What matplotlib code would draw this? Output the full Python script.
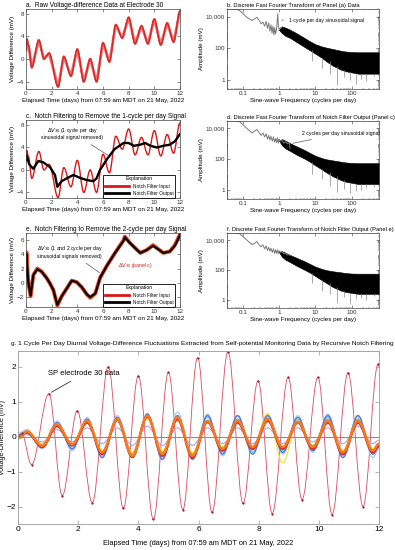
import numpy as np
import matplotlib
matplotlib.use('Agg')
import matplotlib.pyplot as plt
from matplotlib.path import Path
from matplotlib.patches import PathPatch
from matplotlib.lines import Line2D

plt.rcParams['font.family'] = ['Liberation Sans', 'DejaVu Sans']

# ---- panel a / c : raw data (extremes) ----
a_days = [0.0, 0.05, 0.2, 0.45, 1.0, 1.4, 1.8, 2.5, 2.95, 3.5, 4.0, 4.5, 5.0, 5.5,
          6.0, 6.5, 7.0, 7.5, 8.0, 8.5, 9.0, 9.5, 10.0, 10.5, 11.0, 11.5, 12.0]
a_mv = [1.5, 3.5, 2.3, -1.5, 3.3, 0.0, 1.0, -4.9, 0.4, -3.0, 1.7, -4.0, 0.0, -4.0,
        2.8, -0.5, 6.0, 3.7, 7.3, 2.7, 5.8, 2.7, 7.0, 2.5, 6.3, 3.0, 8.4]

# ---- panel c : notch filter output ----
c_days = [0.0, 0.05, 0.25, 0.57, 0.96, 1.35, 1.87, 2.26, 2.44, 2.78, 3.17, 3.69, 4.2,
          4.73, 5.25, 5.5, 5.77, 6.3, 6.9, 7.6, 8.0, 8.4, 8.9, 9.3, 9.7, 10.2, 10.7,
          11.2, 11.6, 12.0]
c_out = [1.8, 2.6, 1.0, 0.2, 1.6, 1.35, 0.5, -0.9, -3.0, -2.0, -1.5, -0.9, -1.4,
         -1.8, -2.0, -1.5, 0.0, 1.9, 3.7, 4.8, 4.8, 4.3, 4.5, 4.8, 4.3, 4.0, 4.3,
         4.5, 5.1, 6.4]

# ---- panel e ----
e_days = [0.0, 0.03, 0.18, 0.36, 0.57, 0.88, 1.2, 1.6, 1.87, 2.13, 2.44, 2.78, 3.17,
          3.56, 3.95, 4.34, 4.73, 5.0, 5.4, 5.77, 6.3, 6.9, 7.6, 7.7, 8.1, 8.9, 9.4,
          9.9, 10.4, 10.7, 11.2, 11.6, 12.0]
e_in = [1.0, 4.3, 0.0, -1.9, 1.1, 2.0, 1.6, 0.7, -0.1, -1.0, -3.2, -1.9, -0.8,
        0.3, 0.1, -0.6, -1.6, -2.1, -1.5, 0.7, 2.4, 4.1, 6.0, 6.5, 5.6, 4.2, 4.6,
        5.3, 4.6, 4.2, 4.4, 5.3, 6.8]
e_out = [1.0, 4.1, 0.1, -1.8, 1.1, 1.9, 1.6, 0.7, -0.1, -1.0, -3.1, -1.9, -0.8,
         0.3, 0.1, -0.6, -1.6, -2.0, -1.5, 0.7, 2.4, 4.1, 5.9, 6.4, 5.6, 4.2, 4.6,
         5.2, 4.6, 4.2, 4.4, 5.2, 6.7]

# ---- FFT spectra (frequency in cycles/day, amplitude in mV) ----
b_low_f = [0.037, 0.06, 0.08, 0.1, 0.13, 0.18, 0.21, 0.245, 0.28, 0.32, 0.36, 0.4, 0.44,
           0.48, 0.52, 0.56, 0.6, 0.64, 0.68, 0.72, 0.76, 0.8, 0.85, 0.92, 0.96, 1.0, 1.1]
b_low_amp = [30000, 30000, 25000, 16000, 9000, 5600, 7000, 9000, 6000, 3500, 4500, 2500,
             5000, 1800, 4000, 1200, 3000, 900, 2500, 700, 2000, 800, 1500, 15000, 2500, 1500, 2000]
d_low_f = [0.037, 0.06, 0.08, 0.1, 0.13, 0.18, 0.21, 0.245, 0.28, 0.32, 0.36, 0.4, 0.44,
           0.48, 0.52, 0.56, 0.6, 0.65, 0.7, 0.75, 0.8, 0.85, 0.9, 0.95, 1.0, 1.1, 1.2,
           1.35, 1.5, 1.7, 1.9, 2.0]
d_low_amp = [30000, 30000, 28000, 18000, 10000, 5000, 6500, 8500, 5500, 3500, 5000, 2800,
             4500, 2000, 3500, 1800, 3000, 1500, 2800, 1300, 2200, 1200, 2500, 1100, 2000,
             1500, 1700, 1100, 1400, 1000, 1200, 500]
f_low_amp = [30000, 30000, 28000, 18000, 10000, 5000, 6000, 8000, 5000, 3500, 4800, 2600,
             4000, 2000, 3300, 1800, 2800, 1500, 2600, 1300, 2200, 1300, 2200, 1200, 1900,
             1500, 1600, 1200, 1300, 1000, 1100, 900]

band_f = [1.0, 1.2, 1.5, 2, 3, 5, 7, 10, 15, 20, 30, 50, 70, 100, 150, 200, 300, 560]
b_band_hi = [1500, 2400, 2000, 1500, 900, 450, 280, 180, 130, 110, 90, 70, 62, 58, 56, 56, 56, 56]
b_band_lo = [1400, 900, 600, 450, 250, 120, 75, 45, 25, 15, 8, 4.5, 3.5, 3, 2.5, 2.5, 2.5, 2.5]
d_band_hi = [1700, 2000, 1600, 1100, 700, 400, 260, 170, 120, 100, 85, 70, 62, 58, 56, 56, 56, 56]
d_band_lo = [1600, 800, 500, 350, 200, 110, 70, 40, 22, 14, 8, 4.5, 3.5, 3, 2.5, 2.5, 2.5, 2.5]
f_band_hi = [1600, 1800, 1400, 1000, 650, 380, 250, 165, 115, 95, 80, 68, 60, 56, 55, 55, 55, 55]
f_band_lo = [1500, 750, 480, 330, 190, 100, 65, 38, 20, 13, 7, 4, 3.2, 2.8, 2.4, 2.4, 2.4, 2.4]

spike_f = [8, 15, 25, 40, 60, 90, 130, 180, 250, 400]
b_spike_amp = [15, 6, 2.5, 0.5, 1.5, 1.0, 0.6, 1.2, 0.9, 1.8]
d_spike_amp = [12, 5, 2.0, 0.8, 1.2, 0.7, 0.9, 1.0, 1.3, 1.6]
f_spike_amp = [14, 4, 2.2, 0.6, 1.4, 0.5, 1.1, 1.2, 1.0, 1.7]

# ---- panel g : extracted diurnal signals ----
sp_days = [0.0, 0.12, 0.45, 1.03, 1.47, 1.97, 2.47, 3.0, 3.5, 4.0, 4.5, 5.0, 5.48, 5.97,
           6.45, 6.98, 7.48, 7.98, 8.45, 8.98, 9.44, 9.97, 10.44, 10.97, 11.47, 11.97, 12.0]
sp_mv = [0.0, 0.1, -0.8, 1.23, -1.69, 0.74, -1.89, 2.0, -2.05, 1.74, -2.37, 1.84, -2.09,
         2.26, -2.17, 2.43, -1.91, 1.6, -2.2, 1.7, -1.8, 1.7, -2.23, 1.83, -2.0, 2.08, 2.0]

g_days = [0.0, 0.3, 0.8, 1.3, 1.8, 2.3, 2.8, 3.3, 3.8, 4.3, 4.8, 5.3, 5.8, 6.3, 6.8, 7.3,
          7.8, 8.3, 8.8, 9.3, 9.8, 10.3, 10.8, 11.3, 11.8, 12.0]
g_orange = [-0.05, 0.15, -0.26, 0.35, -0.22, 0.45, -0.45, 0.5, -0.55, 0.6, -0.5, 0.55, -0.55,
            0.45, -0.35, 0.45, -0.3, 0.5, -0.3, 0.42, -0.3, 0.45, -0.45, 0.45, -0.4, -0.2]
g_red = [0.0, 0.12, -0.3, 0.3, -0.25, 0.4, -0.5, 0.48, -0.58, 0.58, -0.55, 0.5, -0.6,
         0.42, -0.4, 0.4, -0.35, 0.45, -0.35, 0.4, -0.35, 0.4, -0.5, 0.4, -0.45, -0.25]
g_blue = [0.05, 0.1, -0.3, 0.4, -0.35, 0.5, -0.6, 0.55, -0.6, 0.65, -0.65, 0.6, -0.65,
          0.6, -0.5, 0.6, -0.5, 0.6, -0.45, 0.55, -0.4, 0.6, -0.6, 0.6, -0.5, -0.3]
g_lightblue = [0.1, 0.2, -0.35, 0.45, -0.4, 0.55, -0.55, 0.6, -0.5, 0.65, -0.6, 0.7, -0.6,
               0.65, -0.55, 0.6, -0.45, 0.65, -0.5, 0.6, -0.45, 0.65, -0.55, 0.6, -0.6, -0.35]
g_cyan = [0.05, 0.15, -0.2, 0.3, -0.3, 0.4, -0.45, 0.45, -0.5, 0.5, -0.45, 0.5, -0.5,
          0.55, -0.45, 0.5, -0.4, 0.55, -0.4, 0.5, -0.35, 0.55, -0.5, 0.5, -0.45, -0.3]
g_yellow = [0.0, 0.1, -0.2, 0.3, -0.25, 0.4, -0.4, 0.45, -0.45, 0.5, -0.4, 0.45, -0.45,
            0.4, -0.3, 0.45, -0.3, 0.65, -0.75, 0.45, -0.3, 0.45, -0.4, 0.45, -0.35, -0.2]
g_green = [0.0, 0.1, -0.25, 0.3, -0.25, 0.4, -0.4, 0.45, -0.45, 0.55, -0.45, 0.5, -0.5,
           0.45, -0.3, 0.5, -0.3, 0.5, -0.35, 0.45, -0.25, 0.5, -0.4, 0.5, -0.35, -0.2]
g_lavender = [0.0, 0.05, -0.15, 0.2, -0.15, 0.25, -0.2, 0.25, -0.25, 0.3, -0.25, 0.25, -0.25,
              0.25, -0.2, 0.25, -0.2, 0.25, -0.2, 0.25, -0.15, 0.25, -0.2, 0.3, -0.2, -0.1]

XLAB = 'Elapsed Time (days) from 07:59 am MDT on 21 May, 2022'
FLAB = 'Sine-wave Frequency (cycles per day)'
W, H = 395, 550
LAB_FS = 4.5
NOTE_FS = 3.7


def add_axes_px(fig, left, top, right, bottom):
    return fig.add_axes([left / W, 1 - bottom / H, (right - left) / W, (bottom - top) / H])


def smooth(ax, t, v, **kw):
    # cubic bezier segments between the read extremes (flat tangents at each point)
    verts = [(t[0], v[0])]
    codes = [Path.MOVETO]
    for i in range(1, len(t)):
        d = t[i] - t[i - 1]
        verts += [(t[i - 1] + 0.36 * d, v[i - 1]), (t[i] - 0.36 * d, v[i]), (t[i], v[i])]
        codes += [Path.CURVE4] * 3
    ax.add_patch(PathPatch(Path(verts, codes), fill=False, **kw))


def style_box(ax):
    for s in ax.spines.values():
        s.set_linewidth(0.5)
        s.set_color('#444444')
    ax.tick_params(direction='in', length=2, width=0.4, labelsize=LAB_FS, pad=1.5,
                   top=True, right=True, colors='#333333')
    ax.tick_params(which='minor', direction='in', length=1, width=0.3, top=True, right=True)


def time_panel(ax, title, ylim, yticks):
    style_box(ax)
    ax.set_xlim(0, 12)
    ax.set_ylim(*ylim)
    ax.set_xticks(range(0, 13, 2))
    ax.set_yticks(yticks)
    ax.set_xlabel(XLAB, fontsize=LAB_FS, labelpad=1.5)
    ax.set_ylabel('Voltage Difference (mV)', fontsize=LAB_FS, labelpad=1)
    ax.set_title(title, fontsize=4.7, loc='left', pad=1.5)


def fft_panel(ax, title, low_f, low_amp, band_hi, band_lo, spike_amp):
    style_box(ax)
    ax.set_xscale('log')
    ax.set_yscale('log')
    ax.fill_between(band_f, band_lo, band_hi, color='black', lw=0.4)
    spike_top = [band_lo[min(range(len(band_f)), key=lambda i: abs(band_f[i] - s))] for s in spike_f]
    ax.vlines(spike_f, spike_amp, spike_top, color='#888888', lw=0.5)
    ax.plot(low_f, low_amp, color='#7a7a7a', lw=0.7)
    ax.set_xlim(0.037, 560)
    ax.set_ylim(0.27, 30000)
    ax.set_xticks([0.1, 1, 10, 100], ['0.1', '1', '10', '100'])
    ax.set_yticks([1, 100, 10000], ['1', '100', '10,000'])
    ax.set_xlabel(FLAB, fontsize=LAB_FS, labelpad=1.5)
    ax.set_ylabel('Amplitude (mV)', fontsize=LAB_FS, labelpad=1)
    ax.set_title(title, fontsize=4.15, loc='left', pad=1.5)


def explanation(ax):
    handles = [Line2D([], [], color='#d81818', lw=2), Line2D([], [], color='black', lw=2)]
    leg = ax.legend(handles, ['Notch Filter Input', 'Notch Filter Output'], title='Explanation',
                    loc='lower right', bbox_to_anchor=(0.97, 0.0), fontsize=3.4, title_fontsize=3.7,
                    frameon=True, fancybox=False, edgecolor='black', framealpha=1,
                    borderpad=0.4, handlelength=5, labelspacing=0.5, borderaxespad=0)
    leg.get_frame().set_linewidth(0.6)


fig = plt.figure(figsize=(3.95, 5.5), dpi=100)

# a
ax = add_axes_px(fig, 26, 9, 180, 89)
time_panel(ax, 'a.  Raw Voltage-difference Data at Electrode 30', (-5.3, 8.8), [-4, 0, 4, 8])
ax.plot(a_days, a_mv, color='#e23a3a', lw=2.0, alpha=0.7)
smooth(ax, a_days, a_mv, color='#c00000', lw=1.1)

# b
ax = add_axes_px(fig, 227, 9, 379, 89)
fft_panel(ax, 'b. Discrete Fast Fourier Transform of Panel (a) Data', b_low_f, b_low_amp,
          b_band_hi, b_band_lo, b_spike_amp)
ax.annotate('1 cycle per day sinusoidal signal', xy=(1.0, 6000), xytext=(1.9, 6000),
            fontsize=NOTE_FS, va='center', arrowprops=dict(arrowstyle='-', lw=0.5, color='#555555'))

# c
ax = add_axes_px(fig, 26, 120, 180, 198)
time_panel(ax, 'c.  Notch Filtering to Remove the 1-cycle per day Signal', (-5.0, 8.9), [-4, 0, 4, 8])
smooth(ax, a_days, a_mv, color='#d81818', lw=1.0)
ax.plot(c_days, c_out, color='black', lw=1.7)
ax.annotate(r'$\Delta V_{30}$ (1 cycle per day' + '\nsinusoidal signal removed)', xy=(6.55, 2.4),
            xytext=(3.6, 6.6), fontsize=NOTE_FS, ha='center', va='center',
            arrowprops=dict(arrowstyle='-', lw=0.5, color='#555555'))
explanation(ax)

# d
ax = add_axes_px(fig, 227, 121, 379, 199)
fft_panel(ax, 'd. Discrete Fast Fourier Transform of Notch Filter Output (Panel c)', d_low_f, d_low_amp,
          d_band_hi, d_band_lo, d_spike_amp)
ax.annotate('2 cycles per day sinusoidal signal', xy=(2.0, 1000), xytext=(4.2, 4500),
            fontsize=NOTE_FS, va='center', arrowprops=dict(arrowstyle='-', lw=0.5, color='#555555'))

# e
ax = add_axes_px(fig, 26, 233, 180, 307)
time_panel(ax, 'e.  Notch Filtering to Remove the 2-cycle per day Signal', (-3.4, 7.0), [-2, 0, 2, 4, 6])
ax.plot(e_days, e_in, color='#e8401c', lw=2.8)
ax.plot(e_days, e_out, color='black', lw=1.5)
ax.annotate(r'$\Delta V_{30}$ (1 and 2 cycle per day' + '\nsinusoidal signals removed)', xy=(5.9, 1.2),
            xytext=(3.4, 4.4), fontsize=NOTE_FS, ha='center', va='center',
            arrowprops=dict(arrowstyle='-', lw=0.5, color='#555555'))
ax.text(7.2, 2.4, r'$\Delta V_{30}$ (panel c)', color='#d81818', fontsize=NOTE_FS, va='center')
explanation(ax)

# f
ax = add_axes_px(fig, 227, 233, 379, 308)
fft_panel(ax, 'f. Discrete Fast Fourier Transform of Notch Filter Output (Panel e)', d_low_f, f_low_amp,
          f_band_hi, f_band_lo, f_spike_amp)

# g
ax = add_axes_px(fig, 18, 351, 379, 524)
for s in ax.spines.values():
    s.set_linewidth(0.6)
    s.set_color('#999999')
ax.tick_params(direction='in', length=3, width=0.5, labelsize=6, pad=1.5,
               top=True, right=True, color='#999999')
ax.axhline(0, color='#8080dd', lw=0.7)
smooth(ax, sp_days, sp_mv, color='#d84a5e', lw=0.6)
ax.plot(sp_days[1:-1], sp_mv[1:-1], 'o', color='#a01020', ms=1.6, mec='none')
series = [(g_lavender, '#a898e8', 0.7), (g_lightblue, '#a8c8f0', 0.9), (g_cyan, '#70d8ea', 0.9),
          (g_green, '#78c860', 0.9), (g_yellow, '#f0e040', 0.9), (g_blue, '#4a78e0', 1.0),
          (g_red, '#e02818', 1.6), (g_orange, '#f57a20', 1.8)]
for vals, col, lw in series:
    smooth(ax, g_days, vals, color=col, lw=lw)
ax.set_xlim(0, 12)
ax.set_ylim(-2.5, 2.45)
ax.set_xticks(range(0, 13, 2))
ax.set_yticks([-2, -1, 0, 1, 2])
ax.set_xlabel(XLAB, fontsize=5.3, labelpad=5)
ax.set_ylabel('Voltage-Difference (mV)', fontsize=5, labelpad=0.5)
ax.set_title('g. 1 Cycle Per Day Diurnal Voltage-Difference Fluctuations Extracted from '
             'Self-potential Monitoring Data by Recursive Notch Filtering', fontsize=4.68, pad=4,
             x=0.51)
ax.annotate('SP electrode 30 data', xy=(1.03, 1.23), xytext=(1.0, 1.8), fontsize=5.5,
            ha='left', va='center', arrowprops=dict(arrowstyle='-', lw=0.6, color='#333333'))

fig.savefig('out.png', dpi=100, facecolor='white')
